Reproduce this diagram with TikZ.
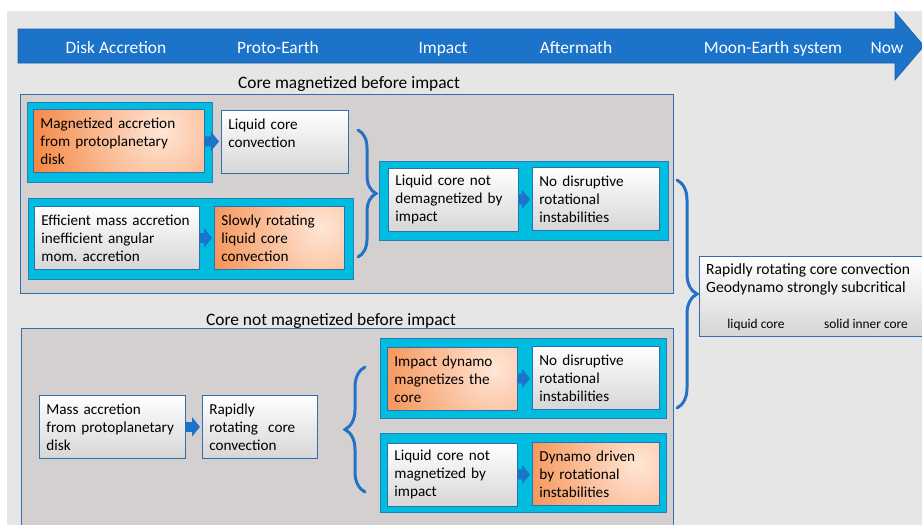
\documentclass[tikz,border=0pt]{standalone}
\usepackage{fontspec}
\setmainfont{Carlito}
\usepackage{xcolor}
\usepackage{tikz}
\usetikzlibrary{arrows.meta,calc,decorations.pathreplacing}
\definecolor{canvas}{HTML}{E6E6E6}
\definecolor{timeBlue}{HTML}{1B74CA}
\definecolor{timeBlueDk}{HTML}{1A5EA6}
\definecolor{panelFill}{HTML}{D4D0CF}
\definecolor{edge}{HTML}{2E6FB0}
\definecolor{cyanFill}{HTML}{00BCDF}
\definecolor{cyanEdge}{HTML}{1F80BD}
\definecolor{warm}{HTML}{F27A30}
\definecolor{warmLt}{HTML}{FFE6D6}
\definecolor{coolLo}{HTML}{D6D6D6}
\definecolor{braceBlue}{HTML}{2472C8}
\frenchspacing

\begin{document}
\begin{tikzpicture}[x=1pt,y=-1pt,
    every node/.style={font=\fontsize{15.2}{18}\selectfont, inner sep=0pt},
    big/.style={font=\fontsize{17.4}{21}\selectfont},
    hdr/.style={big, text=white, anchor=base},
    panelbox/.style={draw=edge, line width=0.9pt, fill=panelFill, anchor=north west},
    groupbox/.style={draw=cyanEdge, line width=0.9pt, fill=cyanFill, anchor=north west},
    boxbase/.style={draw=edge, line width=0.8pt, anchor=north west, align=left,
                    inner xsep=7pt, minimum height=63pt, text width=#1},
    coolbox/.style={boxbase=#1, top color=white, bottom color=coolLo},
    warmbox/.style={boxbase=#1, fill=warm,
        path picture={\shade[inner color=warmLt, outer color=warm]
          ($(path picture bounding box.center)+(42pt,10pt)$) circle (150pt);}},
    flow/.style={draw=timeBlue, line width=10pt, -{Triangle[length=8pt,width=19pt]}, shorten >=2pt},
    curly/.style={draw=braceBlue, line width=3pt, line cap=round, decorate,
                  decoration={brace, amplitude=#1}}]

  \useasboundingbox (0,0) rectangle (922,525);
  \clip (0,0) rectangle (922,525);
  \fill[canvas] (7,11) rectangle (930,530);

  % time line
  \draw[fill=timeBlue, draw=timeBlueDk, line width=0.6pt]
    (18,29) -- (895,29) -- (895,12) -- (924,46) -- (895,80) -- (895,63) -- (18,63) -- cycle;
  \node[hdr] (phDisk)   at (116,53) {Disk Accretion};
  \node[hdr] (phProto)  at (278,53) {Proto-Earth};
  \node[hdr] (phImpact) at (443,53) {Impact};
  \node[hdr] (phAfter)  at (576,53) {Aftermath};
  \node[hdr] (phMoon)   at (773,53) {Moon-Earth system};
  \node[hdr] (phNow)    at (887,53) {Now};

  % upper scenario
  \node[big, anchor=base] (titleMag) at (349,88) {Core magnetized before impact};
  \node[panelbox, minimum width=653pt, minimum height=199pt] (panelMag) at (20,94) {};
  \node[groupbox, minimum width=185pt, minimum height=80pt] (grpA) at (27,102) {};
  \node[groupbox, minimum width=325pt, minimum height=81pt] (grpB) at (28,198) {};
  \node[groupbox, minimum width=289pt, minimum height=79pt] (grpC) at (379,161) {};

  \node[warmbox=157pt] (magAcc) at (33,109) {Magnetized accretion\\from protoplanetary\\disk};
  \node[coolbox=113pt] (liqConv) at (221,110) {Liquid core\\convection\\~};
  \node[coolbox=151pt] (effAcc) at (34,206) {Efficient mass accretion\\inefficient angular\\mom. accretion};
  \node[warmbox=116pt] (slowRot) at (214,206) {Slowly rotating\\liquid core\\convection};
  \node[coolbox=116pt] (notDemag) at (388,168) {Liquid core not\\demagnetized by\\impact};
  \node[coolbox=113pt] (noDisrA) at (532,167) {No disruptive\\rotational\\instabilities};

  \draw[flow] (magAcc) -- (liqConv);
  \draw[flow] (effAcc) -- (slowRot);
  \draw[flow] (notDemag) -- (noDisrA);

  \coordinate (brUpTop) at (358,130);
  \coordinate (brUpBot) at (358,257);
  \draw[curly=18pt] (brUpTop) -- (brUpBot);

  % lower scenario
  \node[big, anchor=base] (titleNot) at (331,325) {Core not magnetized before impact};
  \node[panelbox, minimum width=652pt, minimum height=215pt] (panelNot) at (21,328) {};
  \node[groupbox, minimum width=286pt, minimum height=80pt] (grpD) at (380,338) {};
  \node[groupbox, minimum width=286pt, minimum height=79pt] (grpE) at (380,433) {};

  \node[coolbox=132pt] (massAcc) at (39,395) {Mass accretion\\from protoplanetary\\disk};
  \node[coolbox=101pt] (rapidRot) at (202,395) {Rapidly\\rotating~ core\\convection};
  \node[warmbox=116pt] (impDyn) at (387,347) {Impact dynamo\\magnetizes the\\core};
  \node[coolbox=113pt] (noDisrB) at (532,346) {No disruptive\\rotational\\instabilities};
  \node[coolbox=116pt] (notMag) at (387,443) {Liquid core not\\magnetized by\\impact};
  \node[warmbox=113pt] (dynRot) at (532,442) {Dynamo driven\\by rotational\\instabilities};

  \draw[flow] (massAcc) -- (rapidRot);
  \draw[flow] (impDyn) -- (noDisrB);
  \draw[flow] (notMag) -- (dynRot);

  \coordinate (brLoBot) at (365,492);
  \coordinate (brLoTop) at (365,367);
  \draw[curly=20pt] (brLoBot) -- (brLoTop);

  % present day
  \coordinate (brNowTop) at (677,180);
  \coordinate (brNowBot) at (677,408);
  \draw[curly=20pt] (brNowTop) -- (brNowBot);

  \node[draw=edge, line width=0.8pt, top color=white, bottom color=coolLo, anchor=north west,
        minimum width=240pt, minimum height=80pt] (today) at (699,256) {};
  \node[anchor=north west, align=left, font=\fontsize{15.6}{18}\selectfont] (todayTxt) at (706,263)
    {Rapidly rotating core convection\\Geodynamo strongly subcritical};
  \node[anchor=base, font=\fontsize{13.4}{16}\selectfont] (lblLiquid) at (756,328) {liquid core};
  \node[anchor=base, font=\fontsize{13.4}{16}\selectfont] (lblSolid) at (866,328) {solid inner core};
\end{tikzpicture}
\end{document}
